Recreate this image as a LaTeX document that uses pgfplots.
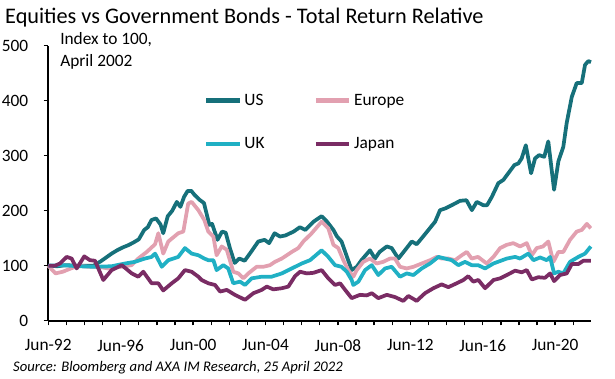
\documentclass[border=0pt]{standalone}
\usepackage{pgfplots}
\pgfplotsset{compat=1.18}
\usepackage{fontspec}
\setmainfont{Carlito}
\definecolor{usc}{RGB}{22,112,122}
\definecolor{euc}{RGB}{226,160,176}
\definecolor{ukc}{RGB}{32,176,196}
\definecolor{jpc}{RGB}{122,44,100}
\begin{document}
\begin{tikzpicture}
\begin{axis}[
  scale only axis, width=407pt, height=206.25pt,
  at={(0,0)}, anchor=south west,
  xmin=0, xmax=29.98, ymin=0, ymax=500,
  axis lines*=left,
  axis line style={black, line width=1.3pt},
  tick style={black, line width=1pt},
  tick align=outside,
  major tick length=3.5pt, minor tick length=3.5pt,
  xtick={0,4,...,28},
  xticklabels={Jun-92,Jun-96,Jun-00,Jun-04,Jun-08,Jun-12,Jun-16,Jun-20},
  minor xtick={1,2,3,5,6,7,9,10,11,13,14,15,17,18,19,21,22,23,25,26,27,29},
  ytick={0,100,...,500},
  /pgf/number format/assume math mode=true,
  ticklabel style={font=\fontsize{13}{15}\selectfont, text=black},
  xticklabel style={anchor=center, yshift=-15pt},
  yticklabel style={anchor=east, xshift=-8pt},
  clip=false,
  legend columns=2,
  legend style={at={(axis cs:8.6,361)}, anchor=west, draw=none, fill=none,
    font=\fontsize{13}{15}\selectfont, inner sep=0pt,
    row sep=18.5pt, column sep=0pt,
    /tikz/every odd column/.append style={column sep=0pt}},
  legend cell align=left,
  legend image code/.code={\draw[#1, line width=3.2pt] (0pt,0pt) -- (25pt,0pt);},
  every axis plot/.append style={line width=2.8pt, line join=round},
]
\addplot[usc] coordinates {(0,100) (0.5,99) (1.0,101) (1.5,100) (2.0,100) (2.5,100) (2.9,108) (3.2,115) (3.5,122) (3.8,128) (4.1,133) (4.4,137) (4.7,142) (5.0,148) (5.3,165) (5.5,170) (5.7,183) (5.95,186) (6.2,175) (6.35,159) (6.6,190) (6.85,200) (7.1,216) (7.3,207) (7.5,225) (7.7,236) (7.9,236) (8.1,228) (8.35,220) (8.6,214) (8.9,174) (9.05,176) (9.35,147) (9.6,162) (9.8,160) (10.05,130) (10.3,105) (10.55,113) (10.85,109) (11.2,125) (11.6,144) (11.95,147) (12.2,141) (12.5,159) (12.8,153) (13.1,155) (13.55,162) (13.9,170) (14.2,165) (14.65,180) (15.1,190) (15.4,180) (15.75,165) (15.95,153) (16.2,144) (16.5,116) (16.76,92) (17.04,98) (17.3,110) (17.77,128) (18.05,113) (18.3,125) (18.7,135) (18.97,132) (19.34,113) (19.7,128) (20.08,144) (20.35,139) (20.63,150) (21.0,165) (21.37,180) (21.64,201) (21.92,204) (22.29,210) (22.75,218) (23.1,219) (23.4,201) (23.67,216) (24.03,210) (24.24,210) (24.5,225) (24.86,250) (25.14,256) (25.41,268) (25.75,283) (25.97,286) (26.15,295) (26.38,319) (26.67,268) (26.89,295) (27.11,301) (27.4,298) (27.62,326) (27.94,238) (28.18,290) (28.45,316) (28.64,360) (28.92,407) (29.19,432) (29.47,432) (29.65,465) (29.83,472) (29.98,470)};
\addlegendentry{\makebox[50pt][l]{US}}
\addplot[euc] coordinates {(0,100) (0.4,86) (0.8,89) (1.25,95) (1.66,100) (2.2,98) (2.76,98) (3.3,95) (4.05,98) (4.6,101) (4.97,113) (5.44,125) (5.9,139) (6.08,159) (6.35,122) (6.63,144) (7.18,159) (7.46,162) (7.73,213) (7.92,216) (8.29,201) (8.62,183) (8.84,162) (9.12,153) (9.3,119) (9.58,135) (9.86,129) (10.22,89) (10.5,86) (10.77,77) (11.05,86) (11.51,98) (11.88,98) (12.25,101) (12.52,107) (12.9,113) (13.45,125) (13.81,132) (14.09,144) (14.55,159) (15.1,180) (15.47,168) (15.75,138) (16.02,132) (16.3,110) (16.57,92) (16.85,80) (17.04,92) (17.4,107) (17.77,113) (18.14,104) (18.5,107) (18.88,113) (19.15,113) (19.43,98) (19.8,95) (20.17,98) (20.63,104) (21.09,110) (21.46,116) (21.73,113) (22.1,113) (22.47,110) (22.84,119) (23.12,125) (23.39,113) (23.74,116) (24.22,104) (24.59,116) (24.96,132) (25.33,138) (25.69,141) (26.06,135) (26.43,141) (26.71,119) (26.98,132) (27.33,135) (27.62,144) (27.9,107) (28.18,125) (28.45,125) (28.82,147) (29.19,162) (29.47,165) (29.75,176) (29.97,168)};
\addlegendentry{Europe}
\addplot[ukc] coordinates {(0,100) (0.74,101) (1.66,99) (2.58,98) (3.5,99) (4.24,104) (4.79,107) (5.34,113) (5.71,116) (5.9,122) (6.27,98) (6.63,110) (7.18,116) (7.55,132) (7.92,122) (8.29,119) (8.62,113) (8.84,110) (9.12,110) (9.3,92) (9.67,101) (9.94,95) (10.22,68) (10.59,71) (10.87,65) (11.24,77) (11.79,80) (12.34,80) (12.9,86) (13.45,95) (14.0,104) (14.46,110) (15.1,128) (15.47,116) (15.84,101) (16.2,98) (16.49,89) (16.76,74) (16.85,65) (17.13,71) (17.5,92) (17.87,101) (18.23,83) (18.6,95) (18.97,98) (19.43,80) (19.8,86) (20.17,83) (20.63,95) (21.09,104) (21.55,116) (21.92,113) (22.29,110) (22.65,101) (23.02,107) (23.39,101) (23.74,101) (24.13,95) (24.59,104) (25.33,113) (25.79,116) (26.06,113) (26.52,122) (26.8,110) (27.17,115) (27.54,110) (27.72,116) (27.94,86) (28.18,89) (28.45,86) (28.82,107) (29.28,116) (29.65,122) (29.97,135)};
\addlegendentry{\makebox[50pt][l]{UK}}
\addplot[jpc] coordinates {(0,100) (0.37,100) (0.65,104) (1.02,116) (1.29,113) (1.57,95) (1.99,117) (2.3,110) (2.58,109) (3.04,74) (3.5,92) (4.06,101) (4.61,86) (4.97,80) (5.25,89) (5.71,68) (6.08,68) (6.35,55) (6.82,68) (7.18,77) (7.55,92) (7.92,89) (8.29,80) (8.47,74) (8.84,68) (9.21,65) (9.49,53) (9.86,56) (10.31,47) (10.87,38) (11.33,50) (11.79,56) (12.07,62) (12.43,57) (12.9,59) (13.26,62) (13.63,81) (13.91,89) (14.28,86) (14.64,87) (15.1,92) (15.47,77) (15.84,65) (16.12,68) (16.4,56) (16.76,41) (17.22,47) (17.59,46) (17.87,50) (18.23,41) (18.7,47) (19.15,43) (19.61,36) (19.89,45) (20.35,36) (20.81,50) (21.27,59) (21.73,66) (22.1,61) (22.56,68) (22.93,74) (23.2,81) (23.48,71) (23.76,74) (24.13,59) (24.59,74) (24.96,77) (25.33,83) (25.79,91) (26.15,88) (26.43,92) (26.71,75) (27.07,79) (27.44,78) (27.72,86) (27.94,72) (28.27,83) (28.64,86) (28.92,103) (29.28,103) (29.56,109) (29.97,109)};
\addlegendentry{Japan}
\end{axis}
\node[anchor=west, inner sep=0pt, font=\fontsize{16.7}{18}\selectfont] at (-32.5pt,227.5pt) {Equities vs Government Bonds - Total Return Relative};
\node[anchor=west, inner sep=0pt, font=\fontsize{13}{15}\selectfont] at (8.8pt,210.5pt) {Index to 100,};
\node[anchor=west, inner sep=0pt, font=\fontsize{13}{15}\selectfont] at (8.8pt,194.3pt) {April 2002};
\node[anchor=west, inner sep=0pt, font=\fontsize{11}{13}\selectfont\itshape] at (-26.5pt,-35.25pt) {Source: Bloomberg and AXA IM Research, 25 April 2022};
\pgfresetboundingbox
\useasboundingbox (-36.2pt,-43.7pt) rectangle (425pt,240.5pt);
\end{tikzpicture}
\end{document}
